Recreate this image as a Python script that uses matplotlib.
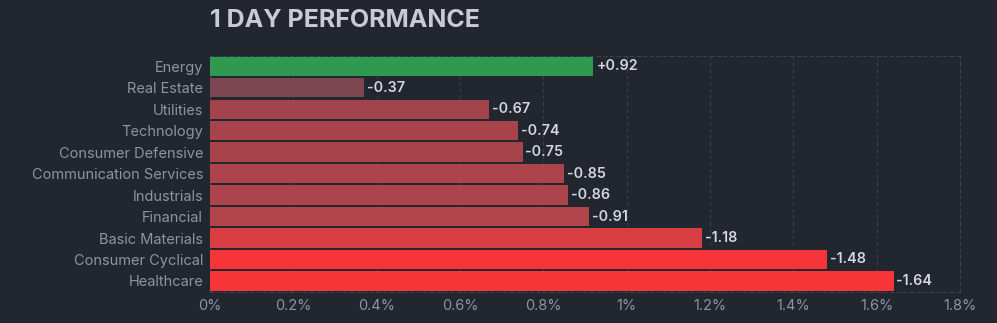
import matplotlib.pyplot as plt
from matplotlib.ticker import FuncFormatter

# sector 1 day change in %
sectors = ["Energy", "Real Estate", "Utilities", "Technology", "Consumer Defensive",
           "Communication Services", "Industrials", "Financial", "Basic Materials",
           "Consumer Cyclical", "Healthcare"]
changes = [0.92, -0.37, -0.67, -0.74, -0.75, -0.85, -0.86, -0.91, -1.18, -1.48, -1.64]
colors = ["#2f9a4f", "#7b4650", "#a3434b", "#a7434b", "#a7434b", "#ae444b",
          "#ae444b", "#b2444b", "#d83d42", "#f63538", "#f63538"]
xticks = [0, 0.2, 0.4, 0.6, 0.8, 1.0, 1.2, 1.4, 1.6, 1.8]

bg = "#22262f"
grid_col = "#3b404c"

plt.rcParams['font.family'] = ['Inter', 'DejaVu Sans']

fig = plt.figure(figsize=(9.97, 3.23), dpi=100, facecolor=bg)
ax = fig.add_axes([0.2106, 0.097, 0.7525, 0.731])
ax.set_facecolor(bg)

y = list(range(len(sectors)))
widths = [abs(c) for c in changes]
ax.barh(y, widths, height=0.9, color=colors, zorder=3)

for yi, c in zip(y, changes):
    txt = f"+{c:.2f}" if c > 0 else f"-{abs(c):.2f}"
    ax.text(abs(c) + 0.007, yi, txt, va="center", ha="left", color="#d4d6de",
            fontsize=10.3, fontweight="semibold", zorder=4)

ax.set_xlim(0, 1.8)
ax.set_ylim(len(sectors) - 0.5, -0.5)
ax.set_yticks(y)
ax.set_yticklabels(sectors)
ax.set_xticks(xticks)
ax.xaxis.set_major_formatter(FuncFormatter(lambda v, p: f"{v:g}%"))

ax.tick_params(axis="both", length=0, colors="#8e93a3", labelsize=10.5)
ax.tick_params(axis="y", pad=5)
ax.tick_params(axis="x", pad=5)

ax.grid(axis="x", color=grid_col, linestyle=(0, (3, 3)), linewidth=0.8, zorder=0)
for s in ax.spines.values():
    s.set_color(grid_col)
    s.set_linestyle((0, (3, 3)))
    s.set_linewidth(0.8)

fig.text(0.2106, 0.935, "1 DAY PERFORMANCE", color="#c9cbd4", fontsize=18,
         fontweight="bold", va="center", ha="left")

fig.savefig("out.png", dpi=100, facecolor=bg)
